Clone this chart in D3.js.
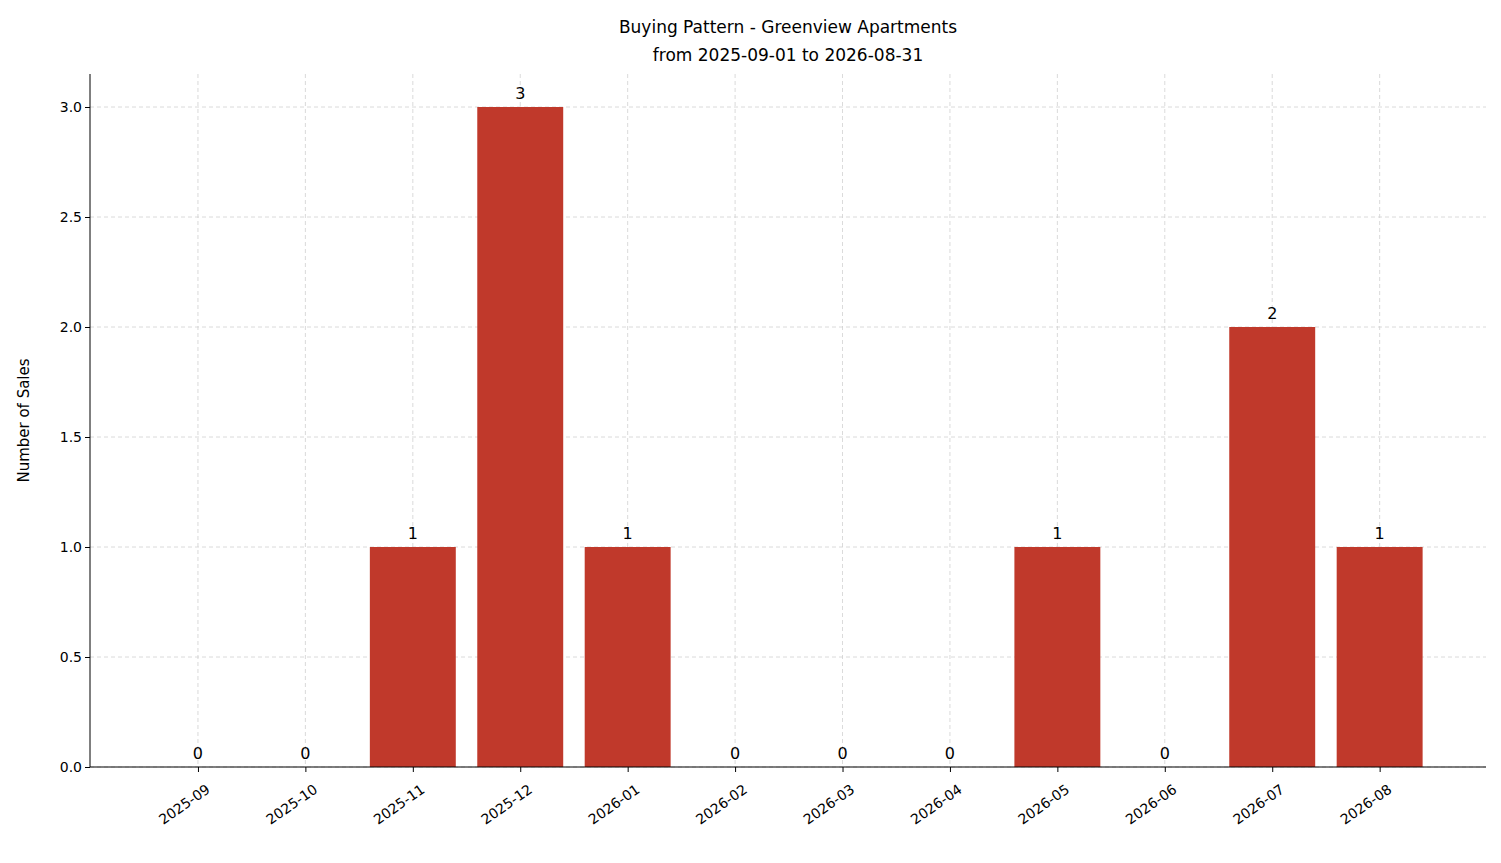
<!DOCTYPE html>
<html><head><meta charset="utf-8">
<script src="https://cdn.jsdelivr.net/npm/d3@7"></script>
<style>body{margin:0;background:#fff}svg{font-family:"DejaVu Sans",sans-serif}</style>
</head><body>
<svg id="c" width="1501" height="863"></svg>
<script>
const months = ["2025-09","2025-10","2025-11","2025-12","2026-01","2026-02","2026-03","2026-04","2026-05","2026-06","2026-07","2026-08"];
const sales = [0,0,1,3,1,0,0,0,1,0,2,1];
const yTicks = [0,0.5,1,1.5,2,2.5,3];

const svg = d3.select("#c");
const L=90,R=1486,T=74,B=767;
const x = d3.scaleLinear().domain([-1.005,11.99]).range([L,R]);
const y = d3.scaleLinear().domain([0,3.15]).range([B,T]);
const bw = x(0.8)-x(0);

const g = svg.append("g");
// grid
g.selectAll(".gx").data(months).join("line")
  .attr("x1",(d,i)=>x(i)).attr("x2",(d,i)=>x(i)).attr("y1",T).attr("y2",B)
  .attr("stroke","#d0d0d0").attr("stroke-dasharray","4,3").attr("stroke-width",0.8);
g.selectAll(".gy").data(yTicks).join("line")
  .attr("x1",L).attr("x2",R).attr("y1",d=>y(d)).attr("y2",d=>y(d))
  .attr("stroke","#d0d0d0").attr("stroke-dasharray","4,3").attr("stroke-width",0.8);

// bars
g.selectAll("rect").data(sales).join("rect")
  .attr("x",(d,i)=>x(i)-bw/2).attr("width",bw)
  .attr("y",d=>y(d)).attr("height",d=>B-y(d)).attr("fill","#c0392b");
g.selectAll(".lbl").data(sales).join("text")
  .attr("x",(d,i)=>x(i)).attr("y",d=>y(d)-8).attr("text-anchor","middle")
  .attr("font-size",16).text(d=>d);

// axes
const ya = svg.append("g").attr("transform",`translate(${L},0)`)
  .call(d3.axisLeft(y).tickValues(yTicks).tickFormat(d3.format(".1f")).tickSizeOuter(0).tickSize(5));
ya.select(".domain").attr("d",`M0,${T}V${B}`);
ya.selectAll("text").attr("font-size",14).attr("font-family","DejaVu Sans").attr("fill","#000");
const xa = svg.append("g").attr("transform",`translate(0,${B})`)
  .call(d3.axisBottom(x).tickValues(d3.range(months.length)).tickFormat(i=>months[i]).tickSizeOuter(0).tickSize(5));
xa.select(".domain").attr("d",`M${L},0H${R}`);
xa.selectAll("text").attr("font-size",14).attr("font-family","DejaVu Sans").attr("fill","#000")
  .attr("text-anchor","end").attr("dy",0).attr("dx",0)
  .attr("transform","translate(8,18) rotate(-35)");

svg.append("text").attr("transform",`translate(29,${(T+B)/2}) rotate(-90)`)
  .attr("text-anchor","middle").attr("font-size",15).text("Number of Sales");
svg.append("text").attr("x",(L+R)/2).attr("y",33).attr("text-anchor","middle").attr("font-size",17)
  .text("Buying Pattern - Greenview Apartments");
svg.append("text").attr("x",(L+R)/2).attr("y",61).attr("text-anchor","middle").attr("font-size",17)
  .text("from 2025-09-01 to 2026-08-31");
</script></body></html>
